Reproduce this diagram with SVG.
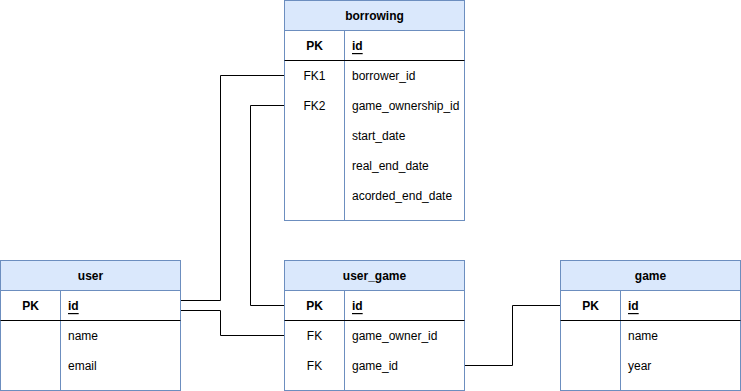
<svg xmlns="http://www.w3.org/2000/svg" width="741" height="391" viewBox="0 0 741 391">
  <style>
    .frame { fill: #ffffff; stroke: #6c8ebf; stroke-width: 1; }
    .head { fill: #dae8fc; stroke: #6c8ebf; stroke-width: 1; }
    .col { stroke: #6c8ebf; stroke-width: 1; fill: none; }
    .sep { stroke: #000000; stroke-width: 1; fill: none; }
    .edge { stroke: #000000; stroke-width: 1; fill: none; }
    text { font-family: "Liberation Sans", Arial, Helvetica, sans-serif; font-size: 12px; fill: #000000; dominant-baseline: central; }
    .title { font-weight: bold; text-anchor: middle; }
    .key { text-anchor: middle; }
    .pk { font-weight: bold; }
    .pkname { font-weight: bold; text-decoration: underline; }
  </style>

  <!-- relationships -->
  <g id="connectors">
    <path class="edge" d="M180.5 300.5 H220.5 V75.5 H284.5" />
    <path class="edge" d="M180.5 310.5 H220.5 V335.5 H284.5" />
    <path class="edge" d="M284.5 105.5 H250.5 V305.5 H284.5" />
    <path class="edge" d="M464.5 365.5 H512.5 V305.5 H560.5" />
  </g>

  <!-- borrowing table -->
  <g id="borrowing">
    <rect class="frame" x="284.5" y="0.5" width="180" height="220" />
    <rect class="head" x="284.5" y="0.5" width="180" height="30" />
    <line class="col" x1="344.5" y1="30.5" x2="344.5" y2="220.5" />
    <line class="sep" x1="284.5" y1="60.5" x2="464.5" y2="60.5" />
    <text class="title" x="374.5" y="16">borrowing</text>
    <text class="key pk" x="314.5" y="46">PK</text>
    <text class="pkname" x="352" y="46">id</text>
    <text class="key" x="314.5" y="76">FK1</text>
    <text x="352" y="76">borrower_id</text>
    <text class="key" x="314.5" y="106">FK2</text>
    <text x="352" y="106">game_ownership_id</text>
    <text x="352" y="136">start_date</text>
    <text x="352" y="166">real_end_date</text>
    <text x="352" y="196">acorded_end_date</text>
  </g>

  <!-- user table -->
  <g id="user">
    <rect class="frame" x="0.5" y="260.5" width="180" height="130" />
    <rect class="head" x="0.5" y="260.5" width="180" height="30" />
    <line class="col" x1="60.5" y1="290.5" x2="60.5" y2="390.5" />
    <line class="sep" x1="0.5" y1="320.5" x2="180.5" y2="320.5" />
    <text class="title" x="90.5" y="276">user</text>
    <text class="key pk" x="30.5" y="306">PK</text>
    <text class="pkname" x="68" y="306">id</text>
    <text x="68" y="336">name</text>
    <text x="68" y="366">email</text>
  </g>

  <!-- user_game table -->
  <g id="user_game">
    <rect class="frame" x="284.5" y="260.5" width="180" height="130" />
    <rect class="head" x="284.5" y="260.5" width="180" height="30" />
    <line class="col" x1="344.5" y1="290.5" x2="344.5" y2="390.5" />
    <line class="sep" x1="284.5" y1="320.5" x2="464.5" y2="320.5" />
    <text class="title" x="374.5" y="276">user_game</text>
    <text class="key pk" x="314.5" y="306">PK</text>
    <text class="pkname" x="352" y="306">id</text>
    <text class="key" x="314.5" y="336">FK</text>
    <text x="352" y="336">game_owner_id</text>
    <text class="key" x="314.5" y="366">FK</text>
    <text x="352" y="366">game_id</text>
  </g>

  <!-- game table -->
  <g id="game">
    <rect class="frame" x="560.5" y="260.5" width="180" height="130" />
    <rect class="head" x="560.5" y="260.5" width="180" height="30" />
    <line class="col" x1="620.5" y1="290.5" x2="620.5" y2="390.5" />
    <line class="sep" x1="560.5" y1="320.5" x2="740.5" y2="320.5" />
    <text class="title" x="650.5" y="276">game</text>
    <text class="key pk" x="590.5" y="306">PK</text>
    <text class="pkname" x="628" y="306">id</text>
    <text x="628" y="336">name</text>
    <text x="628" y="366">year</text>
  </g>
</svg>
